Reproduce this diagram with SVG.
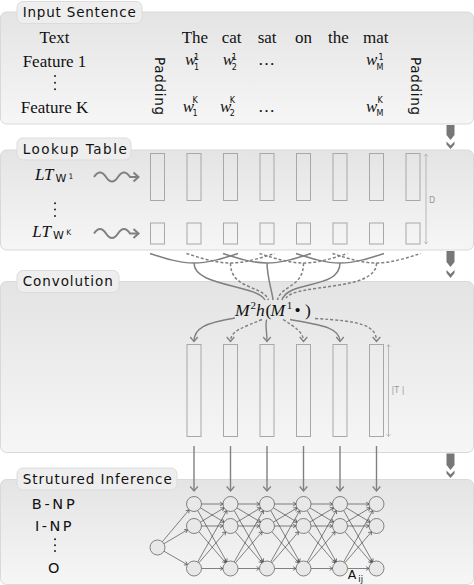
<svg xmlns="http://www.w3.org/2000/svg" width="474" height="585" viewBox="0 0 474 585">
<defs>
<linearGradient id="pg" x1="0" y1="0" x2="0" y2="1">
<stop offset="0" stop-color="#e4e4e4"/>
<stop offset="1" stop-color="#f6f6f6"/>
</linearGradient>
<marker id="va" viewBox="-6 -5 8 10" refX="0" refY="0" markerWidth="8" markerHeight="10" markerUnits="userSpaceOnUse" orient="auto"><path d="M-4.5,-3.8 L0,0 L-4.5,3.8" fill="none" stroke="#808080" stroke-width="1.3"/></marker>
<marker id="wa" viewBox="-7 -6 9 12" refX="0" refY="0" markerWidth="9" markerHeight="12" markerUnits="userSpaceOnUse" orient="auto"><path d="M-5,-4.5 L0,0 L-5,4.5" fill="none" stroke="#808080" stroke-width="2"/></marker>
<marker id="da" viewBox="-4 -3 5 6" refX="0" refY="0" markerWidth="5" markerHeight="6" markerUnits="userSpaceOnUse" orient="auto-start-reverse"><path d="M-2.5,-2 L0,0 L-2.5,2" fill="none" stroke="#aaaaaa" stroke-width="0.7"/></marker>
<marker id="ea" viewBox="-4 -3 5 6" refX="0" refY="0" markerWidth="5" markerHeight="6" markerUnits="userSpaceOnUse" orient="auto"><path d="M-3,-2 L0,0 L-3,2" fill="none" stroke="#333333" stroke-width="0.6"/></marker>
<g id="gap">
<line x1="201.5" y1="504" x2="223" y2="504"/>
<line x1="201.5" y1="526" x2="223" y2="526"/>
<line x1="201.5" y1="568.5" x2="223" y2="568.5"/>
<line x1="200.42" y1="507.87" x2="224.08" y2="522.13"/>
<line x1="200.42" y1="522.13" x2="224.08" y2="507.87"/>
<line x1="198.89" y1="531.69" x2="225.61" y2="562.81"/>
<line x1="198.89" y1="562.81" x2="225.61" y2="531.69"/>
<line x1="197.69" y1="510.53" x2="226.81" y2="561.97"/>
<line x1="197.69" y1="561.97" x2="226.81" y2="510.53"/>
</g>
</defs>
<style>
.panel{fill:url(#pg);stroke:#d9d9d9;stroke-width:1}
.tab{fill:#eeeeee;stroke:#dcdcdc;stroke-width:1}
.tabt{font-family:"DejaVu Sans",sans-serif;font-size:13.5px;fill:#111}
.ser{font-family:"Liberation Serif",serif;font-size:17px;fill:#111}
.it{font-style:italic}
.sm{font-family:"DejaVu Sans",sans-serif;font-size:8px;fill:#111}
.pad{font-family:"DejaVu Sans",sans-serif;font-size:13.5px;fill:#111}
.col{fill:none;stroke:#a8a8a8;stroke-width:1}
.conn{fill:none;stroke:#808080;stroke-width:1.5}
.dash{stroke-dasharray:3 2}
.arr{fill:none;stroke:#808080;stroke-width:1.4;marker-end:url(#va)}
.dim{fill:none;stroke:#aaaaaa;stroke-width:0.8;marker-start:url(#da);marker-end:url(#da)}
.dimt{font-family:"DejaVu Sans",sans-serif;font-size:8px;fill:#999999}
.edge line,.edge{stroke:#333;stroke-width:0.6;marker-end:url(#ea)}
.node{fill:#e8e8e8;stroke:#666;stroke-width:0.8}
.lab{font-family:"DejaVu Sans",sans-serif;font-size:14.5px;fill:#111}
.dot{fill:#222}
.big{fill:#777}
</style>

<g id="panels">
<rect class="panel" x="0.5" y="12" width="473" height="112" rx="6"/>
<rect class="panel" x="0.5" y="150" width="473" height="100" rx="6"/>
<rect class="panel" x="0.5" y="281.5" width="473" height="171" rx="6"/>
<rect class="panel" x="0.5" y="479.5" width="473" height="105" rx="6"/>
</g>

<g id="stage-arrows">
<polygon class="big" points="446.5,125 454.5,125 454.5,135 450.5,140 446.5,135"/>
<polygon class="big" points="446.5,141.5 450.5,145.5 454.5,141.5 454.5,144.5 450.5,149 446.5,144.5"/>
<polygon class="big" points="446.5,251 454.5,251 454.5,262 450.5,267 446.5,262"/>
<polygon class="big" points="446.5,270 450.5,274 454.5,270 454.5,273 450.5,278 446.5,273"/>
<polygon class="big" points="446.5,453.5 454.5,453.5 454.5,465 450.5,470 446.5,465"/>
<polygon class="big" points="446.5,470.5 450.5,474.5 454.5,470.5 454.5,473.5 450.5,478 446.5,473.5"/>
</g>

<g id="input-sentence">
<rect class="tab" x="17" y="1.5" width="125" height="22" rx="6"/>
<text class="tabt" x="22.7" y="16.5" textLength="113" lengthAdjust="spacing">Input Sentence</text>
<text class="ser" x="54.5" y="43" text-anchor="middle">Text</text>
<text class="ser" x="54.5" y="66.5" text-anchor="middle">Feature 1</text>
<circle class="dot" cx="55" cy="76" r="1"/><circle class="dot" cx="55" cy="82.7" r="1"/><circle class="dot" cx="55" cy="89.3" r="1"/>
<text class="ser" x="54.5" y="113" text-anchor="middle">Feature K</text>
<text class="ser" y="43"><tspan x="181.7">The</tspan><tspan x="221.7">cat</tspan><tspan x="257.7">sat</tspan><tspan x="295">on</tspan><tspan x="328">the</tspan><tspan x="363">mat</tspan></text>
<text class="pad" transform="translate(155,57) rotate(90)" textLength="58" lengthAdjust="spacing">Padding</text>
<text class="pad" transform="translate(410.5,57) rotate(90)" textLength="58" lengthAdjust="spacing">Padding</text>
<text class="ser it" x="185" y="65">w</text>
<text class="sm" x="194" y="59.5">1</text><text class="sm" x="194" y="69.5">1</text>
<text class="ser it" x="222.7" y="65">w</text>
<text class="sm" x="231.7" y="59.5">1</text><text class="sm" x="231.7" y="69.5">2</text>
<text class="ser" x="258" y="65">…</text>
<text class="ser it" x="366" y="65">w</text>
<text class="sm" x="378.5" y="59.5">1</text><text class="sm" x="376.5" y="69.5">M</text>
<text class="ser it" x="182.7" y="111.5">w</text>
<text class="sm" x="192.5" y="103">K</text><text class="sm" x="192.5" y="116">1</text>
<text class="ser it" x="220" y="111.5">w</text>
<text class="sm" x="229.8" y="103">K</text><text class="sm" x="229.8" y="116">2</text>
<text class="ser" x="258" y="111.5">…</text>
<text class="ser it" x="366" y="111.5">w</text>
<text class="sm" x="377.5" y="103">K</text><text class="sm" x="376.5" y="116">M</text>
</g>

<g id="lookup-table">
<rect class="tab" x="17" y="138" width="114" height="22" rx="6"/>
<text class="tabt" x="22.7" y="153.5" textLength="104" lengthAdjust="spacing">Lookup Table</text>
<text class="ser it" x="35" y="180">LT</text>
<text class="pad" x="55.5" y="182.3" style="font-size:11px">W</text>
<text class="pad" x="68.5" y="178.8" style="font-size:7.5px">1</text>
<circle class="dot" cx="55" cy="203.3" r="1"/><circle class="dot" cx="55" cy="209.5" r="1"/><circle class="dot" cx="55" cy="216" r="1"/>
<text class="ser it" x="32.3" y="236.7">LT</text>
<text class="pad" x="53" y="239" style="font-size:11px">W</text>
<text class="pad" x="66.3" y="234.5" style="font-size:7.5px">K</text>
<path class="conn" d="M94,177 Q100,168 106,177 T118,177 T130,177 L138.5,177" style="stroke-width:2;marker-end:url(#wa)"/>
<path class="conn" d="M94,233.5 Q100,224.5 106,233.5 T118,233.5 T130,233.5 L138.5,233.5" style="stroke-width:2;marker-end:url(#wa)"/>
<g class="col">
<rect x="150.5" y="153.5" width="14" height="47"/><rect x="187" y="153.5" width="14" height="47"/>
<rect x="223.5" y="153.5" width="14" height="47"/><rect x="260" y="153.5" width="14" height="47"/>
<rect x="296.5" y="153.5" width="14" height="47"/><rect x="333" y="153.5" width="14" height="47"/>
<rect x="369.5" y="153.5" width="14" height="47"/><rect x="406" y="153.5" width="14" height="47"/>
<rect x="150.5" y="223" width="14" height="21"/><rect x="187" y="223" width="14" height="21"/>
<rect x="223.5" y="223" width="14" height="21"/><rect x="260" y="223" width="14" height="21"/>
<rect x="296.5" y="223" width="14" height="21"/><rect x="333" y="223" width="14" height="21"/>
<rect x="369.5" y="223" width="14" height="21"/><rect x="406" y="223" width="14" height="21"/>
</g>
<line class="dim" x1="426" y1="154" x2="426" y2="244"/>
<text class="dimt" x="429" y="203">D</text>
</g>

<g id="connectors">
<path class="conn" d="M150,253.5 C164,258 179,263 194,263 C209,263 224,258 238,253.5 M194,263 C194,287 256,284 265,300"/>
<path class="conn dash" d="M186.5,253.5 C200.5,258 215.5,263 230.5,263 C245.5,263 260.5,258 274.5,253.5 M230.5,263 C230.5,290 263,285 268.5,300"/>
<path class="conn" d="M223,253.5 C237,258 252,263 267,263 C282,263 297,258 311,253.5 M267,263 C267.5,280 272,290 273,300"/>
<path class="conn dash" d="M259.5,253.5 C273.5,258 288.5,263 303.5,263 C318.5,263 333.5,258 347.5,253.5 M303.5,263 C303.5,288 281,285 277.5,300"/>
<path class="conn" d="M296,253.5 C310,258 325,263 340,263 C355,263 370,258 384,253.5 M340,263 C340,290 288,280 282,300"/>
<path class="conn dash" d="M332.5,253.5 C346.5,258 361.5,263 376.5,263 C391.5,263 406.5,258 420.5,253.5 M376.5,263 C376.5,292 296,283 286,298"/>
<path class="arr" d="M235,318 C205,323 194,328 194,341.5"/>
<path class="arr dash" d="M262,319.5 C245,327 230.5,330 230.5,341.5"/>
<path class="arr" d="M266.5,319.5 C265,328 267,330 267,341.5"/>
<path class="arr dash" d="M283,319.5 C295,327 303.5,332 303.5,341.5"/>
<path class="arr" d="M290,319.5 C320,325 340,327 340,341.5"/>
<path class="arr dash" d="M315,318.5 C360,321 376.5,325 376.5,341.5"/>
<line class="arr" x1="194" y1="446" x2="194" y2="491"/>
<line class="arr" x1="230.5" y1="446" x2="230.5" y2="491"/>
<line class="arr" x1="267" y1="446" x2="267" y2="491"/>
<line class="arr" x1="303.5" y1="446" x2="303.5" y2="491"/>
<line class="arr" x1="340" y1="446" x2="340" y2="491"/>
<line class="arr" x1="376.5" y1="446" x2="376.5" y2="491"/>
<g class="edge">
<use href="#gap"/>
<use href="#gap" transform="translate(36.5,0)"/>
<use href="#gap" transform="translate(73,0)"/>
<use href="#gap" transform="translate(109.5,0)"/>
<use href="#gap" transform="translate(146,0)"/>
<line x1="162.32" y1="541.76" x2="189.18" y2="509.74"/>
<line x1="163.96" y1="543.69" x2="187.54" y2="529.81"/>
<line x1="164" y1="551.24" x2="187.5" y2="564.76"/>
</g>
</g>

<g id="convolution">
<rect class="tab" x="17" y="270.5" width="102" height="22" rx="6"/>
<text class="tabt" x="22.7" y="286" textLength="90" lengthAdjust="spacing">Convolution</text>
<text class="ser it" x="235" y="315.5" style="font-size:17.5px">M</text>
<text class="ser" x="250.5" y="309" style="font-size:11px">2</text>
<text class="ser it" x="256" y="315.5" style="font-size:17.5px">h</text>
<text class="ser" x="265.5" y="315.5" style="font-size:17.5px">(</text>
<text class="ser it" x="270.5" y="315.5" style="font-size:17.5px">M</text>
<text class="ser" x="286.7" y="309" style="font-size:11px">1</text>
<text class="ser" x="294.5" y="315.5" style="font-size:17.5px">•</text>
<text class="ser" x="305" y="315.5" style="font-size:17.5px">)</text>
<g class="col">
<rect x="187" y="344.5" width="14" height="92"/><rect x="223.5" y="344.5" width="14" height="92"/>
<rect x="260" y="344.5" width="14" height="92"/><rect x="296.5" y="344.5" width="14" height="92"/>
<rect x="333" y="344.5" width="14" height="92"/><rect x="369.5" y="344.5" width="14" height="92"/>
</g>
<line class="dim" x1="388.5" y1="344.5" x2="388.5" y2="436.5"/>
<text class="dimt" x="391.5" y="393">|T |</text>
</g>

<g id="structured-inference">
<rect class="tab" x="17" y="468" width="160" height="22" rx="6"/>
<text class="tabt" x="22.7" y="483.5" textLength="149" lengthAdjust="spacing">Strutured Inference</text>
<text class="lab" x="31.7" y="509" textLength="43" lengthAdjust="spacing">B-NP</text>
<text class="lab" x="35" y="530.7" textLength="36.5" lengthAdjust="spacing">I-NP</text>
<circle class="dot" cx="55" cy="539.3" r="1"/><circle class="dot" cx="55" cy="545.2" r="1"/><circle class="dot" cx="55" cy="551" r="1"/>
<text class="lab" x="48" y="573.3">O</text>
<circle class="node" cx="157.5" cy="547.5" r="7.5"/>
<g class="node">
<circle cx="194" cy="504" r="7.5"/><circle cx="194" cy="526" r="7.5"/><circle cx="194" cy="568.5" r="7.5"/>
<circle cx="230.5" cy="504" r="7.5"/><circle cx="230.5" cy="526" r="7.5"/><circle cx="230.5" cy="568.5" r="7.5"/>
<circle cx="267" cy="504" r="7.5"/><circle cx="267" cy="526" r="7.5"/><circle cx="267" cy="568.5" r="7.5"/>
<circle cx="303.5" cy="504" r="7.5"/><circle cx="303.5" cy="526" r="7.5"/><circle cx="303.5" cy="568.5" r="7.5"/>
<circle cx="340" cy="504" r="7.5"/><circle cx="340" cy="526" r="7.5"/><circle cx="340" cy="568.5" r="7.5"/>
<circle cx="376.5" cy="504" r="7.5"/><circle cx="376.5" cy="526" r="7.5"/><circle cx="376.5" cy="568.5" r="7.5"/>
</g>
<text class="lab" x="347.7" y="578.5" style="font-size:12.5px">A</text>
<text class="lab" x="358.3" y="581.8" style="font-size:8.5px">ij</text>
</g>
</svg>
